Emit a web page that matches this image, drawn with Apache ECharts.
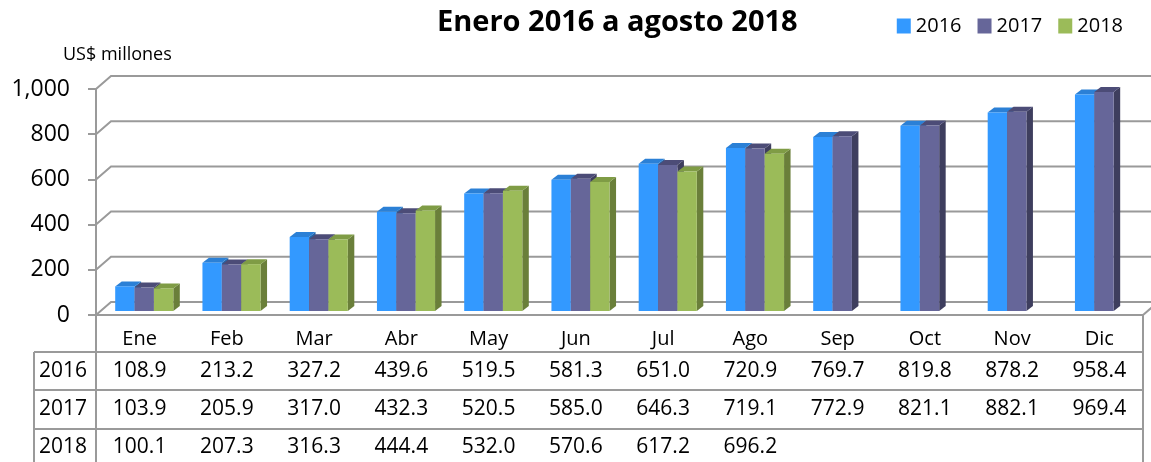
<!DOCTYPE html>
<html><head><meta charset="utf-8">
<script src="https://cdn.jsdelivr.net/npm/echarts@6/dist/echarts.min.js"></script>
<style>html,body{margin:0;padding:0;background:#fff}#c{width:1151px;height:462px}</style>
</head><body><div id="c"></div>
<script>
const months = ['Ene','Feb','Mar','Abr','May','Jun','Jul','Ago','Sep','Oct','Nov','Dic'];
const seriesNames = ['2016','2017','2018'];
const v2016 = [108.9,213.2,327.2,439.6,519.5,581.3,651.0,720.9,769.7,819.8,878.2,958.4];
const v2017 = [103.9,205.9,317.0,432.3,520.5,585.0,646.3,719.1,772.9,821.1,882.1,969.4];
const v2018 = [100.1,207.3,316.3,444.4,532.0,570.6,617.2,696.2];
const yTicks = [0,200,400,600,800,1000];
const title = 'Enero 2016 a agosto 2018';
const unitLabel = 'US$ millones';

const FONT = '"Open Sans", sans-serif';
const W = 1151, H = 462;
const GL = 96, GR = 1143, GT = 89, GB = 315;
const ROW_LINES = [352, 390, 429];
const ROW_CENTERS = [371, 409, 447];
const TABLE_L = 34;
const LINE = '#9a9a9a';
const DX = 15, DY = 13;      // back wall offset
const BDX = 6.5, BDY = 5;    // bar depth
const colors = [
  {front:'#3399ff', top:'#2b80d6', side:'#2466aa'},
  {front:'#666699', top:'#4c4c77', side:'#3e3e5e'},
  {front:'#9bbb59', top:'#7f9c45', side:'#6a7f3a'}
];
const allValues = [v2016, v2017, v2018];

const chart = echarts.init(document.getElementById('c'));

function fmtK(v){ return v === 1000 ? '1,000' : String(v); }

function barRender(si){
  return function(params, api){
    const idx = api.value(0), val = api.value(1);
    const p = api.coord([idx, val]);
    const b = api.coord([idx, 0]);
    const bw = api.size([1,0])[0];
    const w = bw * 0.222;
    const x = p[0] - bw*0.28 + si*w;
    const top = p[1] - 4, bot = b[1] - 4;
    const c = colors[si];
    return {type:'group', children:[
      {type:'polygon', shape:{points:[[x+w,top],[x+w+BDX,top-BDY],[x+w+BDX,bot-BDY],[x+w,bot]]}, style:{fill:c.side}},
      {type:'polygon', shape:{points:[[x,top],[x+BDX,top-BDY],[x+w+BDX,top-BDY],[x+w,top]]}, style:{fill:c.top}},
      {type:'rect', shape:{x:x, y:top, width:w, height:bot-top}, style:{fill:c.front}}
    ]};
  };
}

const series = [];
series.push({
  type:'custom', name:'wall', silent:true, z:1, legendHoverLink:false,
  data: yTicks.map(t => [0, t]),
  renderItem: function(params, api){
    const v = api.value(1);
    const p = api.coord([0, v]);
    const x0 = params.coordSys.x;
    const y = p[1];
    const children = [{type:'polyline', shape:{points:[[x0,y],[x0+DX,y-DY],[W,y-DY]]}, style:{stroke:LINE, lineWidth:2, fill:null}}];
    if (v === 0) {
      const xr = params.coordSys.x + params.coordSys.width;
      children.push({type:'line', shape:{x1:xr, y1:y, x2:xr+DX, y2:y-DY}, style:{stroke:LINE, lineWidth:2}});
    }
    return {type:'group', children};
  }
});
allValues.forEach((arr, si) => {
  series.push({
    type:'custom', name:seriesNames[si], z:2,
    itemStyle:{color:colors[si].front},
    data: arr.map((v,i) => [i, v]),
    renderItem: barRender(si)
  });
});

const xAxes = [{
  type:'category', data:months, gridIndex:0, position:'bottom',
  axisLine:{show:true, lineStyle:{color:LINE, width:2}},
  axisTick:{show:false},
  axisLabel:{show:true, margin:24, verticalAlign:'middle', color:'#000', fontFamily:FONT, fontSize:20, interval:0},
  splitLine:{show:false}
}];
allValues.forEach((arr, si) => {
  xAxes.push({
    type:'category', data:months, gridIndex:0, position:'bottom', offset: ROW_CENTERS[si] - GB,
    axisLine:{show:false}, axisTick:{show:false}, splitLine:{show:false},
    axisLabel:{show:true, margin:0, verticalAlign:'middle', color:'#000', fontFamily:FONT, fontSize:21, interval:0,
      formatter:(val, i) => (arr[i] !== undefined ? arr[i].toFixed(1) : '')}
  });
});

const graphics = [];
ROW_LINES.forEach(y => graphics.push({type:'line', shape:{x1:TABLE_L, y1:y, x2:GR, y2:y}, style:{stroke:LINE, lineWidth:2}, z:5}));
graphics.push({type:'line', shape:{x1:TABLE_L, y1:ROW_LINES[0], x2:TABLE_L, y2:H}, style:{stroke:LINE, lineWidth:2}, z:5});
graphics.push({type:'line', shape:{x1:GL, y1:GB, x2:GL, y2:H}, style:{stroke:LINE, lineWidth:2}, z:5});
graphics.push({type:'line', shape:{x1:GR, y1:GB, x2:GR, y2:H}, style:{stroke:LINE, lineWidth:2}, z:5});
seriesNames.forEach((n, i) => graphics.push({type:'text', x:63, y:ROW_CENTERS[i], style:{text:n, fontFamily:FONT, fontSize:21, fill:'#000', align:'center', verticalAlign:'middle'}, z:5}));
graphics.push({type:'text', x:63, y:55, style:{text:unitLabel, fontFamily:FONT, fontSize:18, fill:'#000', align:'left', verticalAlign:'middle'}});

chart.setOption({
  animation:false,
  title:{text:title, left:432, top:3, textStyle:{fontFamily:FONT, fontWeight:'bold', fontSize:29, color:'#000'}},
  legend:{data:seriesNames, right:23, top:11, icon:'rect', itemWidth:14, itemHeight:15, itemGap:16,
    textStyle:{fontFamily:FONT, fontSize:20, color:'#000'}},
  grid:{left:GL, right:W-GR, top:GT, bottom:H-GB, containLabel:false},
  xAxis:xAxes,
  yAxis:{type:'value', min:0, max:1000, interval:200,
    axisLine:{show:true, lineStyle:{color:LINE, width:2}},
    axisTick:{show:true, length:8, lineStyle:{color:LINE, width:2}},
    axisLabel:{margin:26, color:'#000', fontFamily:FONT, fontSize:23, formatter:fmtK},
    splitLine:{show:false}},
  graphic:graphics,
  series:series
});
</script></body></html>
